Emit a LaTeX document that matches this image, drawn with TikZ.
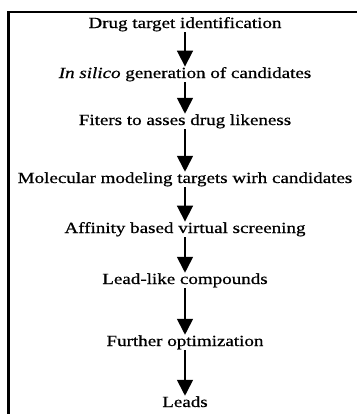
\documentclass[tikz,border=0pt]{standalone}
\usepackage{fontspec}
\setmainfont[FakeStretch=1.23,FakeBold=0.7]{Liberation Serif}
\usetikzlibrary{arrows.meta,positioning}

\begin{document}
\begin{tikzpicture}[x=0.03cm,y=-0.03cm,thick,
		stage/.style={anchor=base,inner sep=1.5pt,font=\fontsize{13.2}{15}\selectfont},
		flow/.style={line width=2.2pt,-{Triangle[width=0.47cm,length=0.48cm]},shorten >=-1.5pt,shorten <=-1pt}]
		\useasboundingbox (0,0) rectangle (357,414);
		\draw[line width=2.4pt] (8.5,414) |- (357,12);

		\node[stage] (target) at (185,28) {Drug target identification};
		\node[stage] (insilico) at (185,78) {\textit{In silico} generation of candidates};
		\node[stage] (filters) at (185,125) {Fiters to asses drug likeness};
		\node[stage] (modeling) at (185,183) {Molecular modeling targets wirh candidates};
		\node[stage] (screening) at (185,233) {Affinity based virtual screening};
		\node[stage] (leadlike) at (185,284) {Lead-like compounds};
		\node[stage] (optimization) at (185,346) {Further optimization};
		\node[stage] (leads) at (185,407) {Leads};

		\path[flow] (target) edge (insilico);
		\path[flow] (insilico) edge (filters);
		\path[flow] (filters) edge (modeling);
		\path[flow] (modeling) edge (screening);
		\path[flow] (screening) edge (leadlike);
		\path[flow] (leadlike) edge (optimization);
		\path[flow] (optimization) edge (leads);
	\end{tikzpicture}
\end{document}
